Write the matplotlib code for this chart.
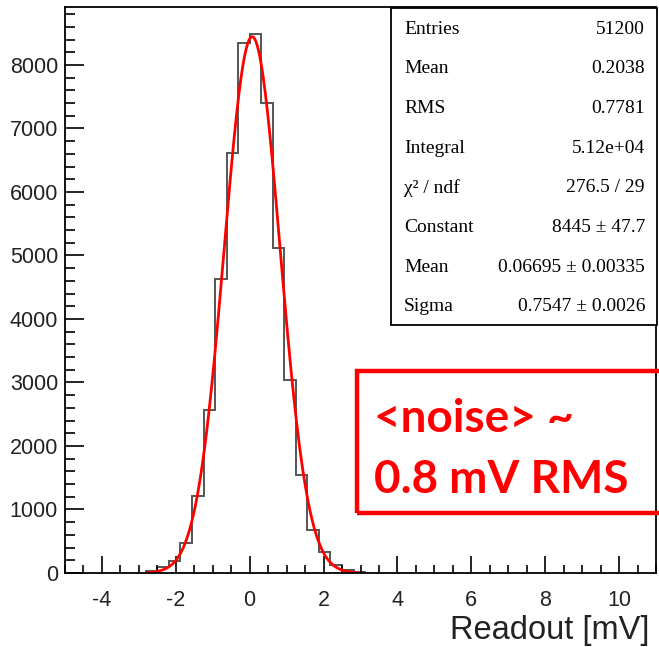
import numpy as np
import matplotlib.pyplot as plt
from matplotlib.patches import Rectangle
from matplotlib.ticker import MultipleLocator

plt.rcParams['font.family'] = ['Liberation Sans', 'DejaVu Sans']
plt.rcParams['axes.unicode_minus'] = False

# histogram contents, bin width 0.3125 mV
bin_edges = np.arange(-9, 11) * 0.3125
counts = [25, 90, 190, 480, 1210, 2567, 4630, 6609, 8342, 8488,
          7406, 5113, 3035, 1543, 670, 336, 120, 47, 15]

# gaussian fit result
fit_const, fit_mean, fit_sigma = 8445, 0.06695, 0.7547
fit_range = (-2.76, 2.9)

stat_names = ['Entries', 'Mean', 'RMS', 'Integral', 'χ² / ndf',
              'Constant', 'Mean', 'Sigma']
stat_values = ['51200', '0.2038', '0.7781', '5.12e+04', '276.5 / 29',
               '8445 ± 47.7', '0.06695 ± 0.00335', '0.7547 ± 0.0026']

W, H = 659, 647
fig = plt.figure(figsize=(W / 100, H / 100), dpi=100)

def fx(px):
    return px / W

def fy(py):
    return 1 - py / H

ax = fig.add_axes([fx(65), fy(573), fx(656) - fx(65), fy(7) - fy(573)])

ax.stairs(counts, bin_edges, color='#555555', lw=1.4)
xf = np.linspace(fit_range[0], fit_range[1], 300)
yf = fit_const * np.exp(-0.5 * ((xf - fit_mean) / fit_sigma) ** 2)
ax.plot(xf, yf, color='red', lw=2)

ax.set_xlim(-5, 11)
ax.set_ylim(0, 1.05 * max(counts))

ax.xaxis.set_major_locator(MultipleLocator(2))
ax.xaxis.set_minor_locator(MultipleLocator(0.5))
ax.yaxis.set_major_locator(MultipleLocator(1000))
ax.yaxis.set_minor_locator(MultipleLocator(200))
ax.tick_params(which='both', direction='in', top=False, right=False,
               labelsize=15.5, colors='black', labelcolor='#222222')
ax.tick_params(axis='x', which='major', length=12, width=1.2, pad=12)
ax.tick_params(axis='x', which='minor', length=6, width=1.2)
ax.tick_params(axis='y', which='major', length=14, width=1.2, pad=5)
ax.tick_params(axis='y', which='minor', length=7, width=1.2)
ax.set_xticks(range(-4, 11, 2))
for s in ax.spines.values():
    s.set_linewidth(1.3)

fig.text(fx(650), fy(630), 'Readout [mV]', fontsize=23.5, ha='right',
         va='center', color='#222222')

# stats box
fig.patches.append(Rectangle((fx(391), fy(325)), fx(657) - fx(391),
                             fy(8) - fy(325), transform=fig.transFigure,
                             fill=True, fc='white', ec='black', lw=1.3))
for i, (n, v) in enumerate(zip(stat_names, stat_values)):
    y = fy(29 + i * 39.7)
    fig.text(fx(404), y, n, family='Liberation Serif', fontsize=14,
             va='center', ha='left')
    fig.text(fx(645), y, v, family='Liberation Serif', fontsize=14,
             va='center', ha='right')

# red annotation
fig.patches.append(Rectangle((fx(357), fy(513)), fx(665) - fx(357),
                             fy(371) - fy(513), transform=fig.transFigure,
                             fill=False, ec='red', lw=3.2))
fig.text(fx(374), fy(432), '<noise> ~', family='Lato', weight='bold',
         fontsize=33, color='red', va='baseline')
fig.text(fx(374), fy(493), '0.8 mV RMS', family='Lato', weight='bold',
         fontsize=33, color='red', va='baseline')

fig.savefig('out.png', dpi=100)
